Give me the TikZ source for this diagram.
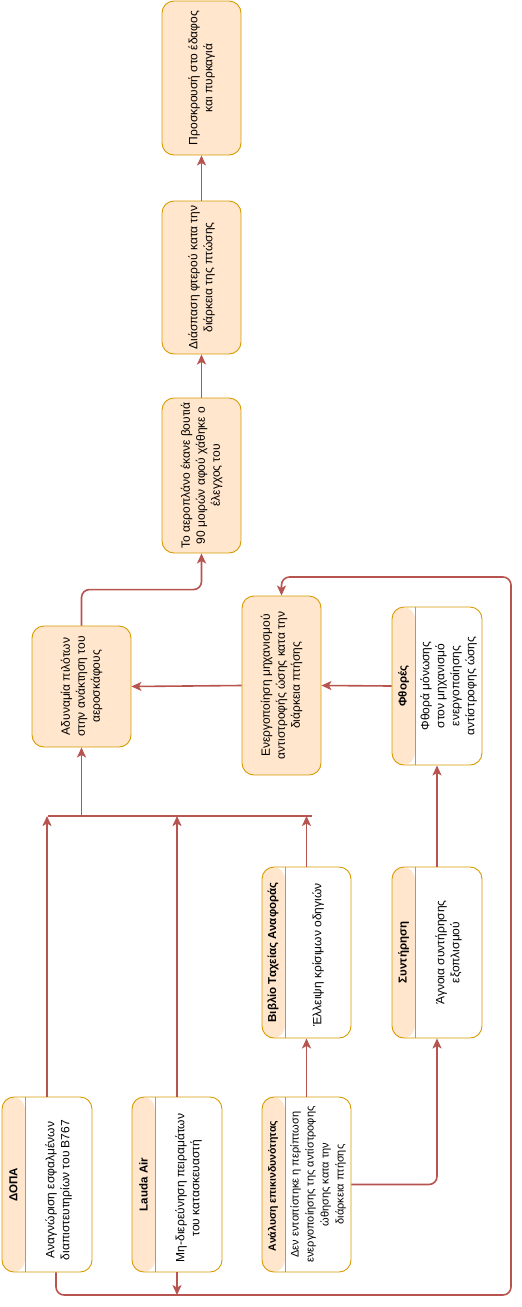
\documentclass[tikz,border=0pt]{standalone}
\usepackage{fontspec}
\setmainfont{Liberation Sans}
\usetikzlibrary{arrows.meta,calc}
\definecolor{ofill}{HTML}{FFE6CC}
\definecolor{oline}{HTML}{D79B00}
\definecolor{rline}{HTML}{B85450}
\begin{document}
\begin{tikzpicture}[x=1pt,y=-1pt,
 box/.style={draw=oline, fill=ofill, line width=0.9pt, rounded corners=12pt, inner sep=0pt},
 lane/.style={draw=oline, fill=white, line width=0.9pt, rounded corners=12pt, inner sep=0pt,
   path picture={\fill[ofill] (path picture bounding box.north west) rectangle ([xshift=23pt]path picture bounding box.south west);
     \draw[oline, line width=0.9pt] ([xshift=23pt]path picture bounding box.north west) -- ([xshift=23pt]path picture bounding box.south west);}},
 txt/.style={rotate=90, align=center, font=\fontsize{12}{15}\selectfont, inner sep=0pt},
 smalltxt/.style={txt, font=\fontsize{11}{15}\selectfont},
 ttl/.style={rotate=90, align=center, font=\fontsize{11.5}{14}\selectfont\bfseries, inner sep=0pt},
 smallttl/.style={ttl, font=\fontsize{10.5}{14}\selectfont\bfseries},
 arr/.style={draw=rline, line width=1.6pt, -{Stealth[length=10pt,width=9pt,inset=2.5pt]}},
 con/.style={draw=rline, line width=1.6pt},
]
\useasboundingbox (0,0) rectangle (522,1307);

% plain boxes
\node[box, minimum width=79pt, minimum height=154pt] (prosk) at (201.5,78) {};
\node[txt] (proskT) at (prosk.center) {Προσκρουσή στο έδαφος\\και πυρκαγιά};
\node[box, minimum width=79pt, minimum height=153pt] (diasp) at (201.5,277.5) {};
\node[txt] (diaspT) at (diasp.center) {Διάσπαση φτερού κατα την\\διάρκεια της πτώσης};
\node[box, minimum width=79pt, minimum height=155pt] (aero) at (201.5,475.5) {};
\node[txt] (aeroT) at (aero.center) {Το αεροπλάνο έκανε βουτιά\\90 μοιρών αφού χάθηκε ο\\έλεγχος του};
\node[box, minimum width=99pt, minimum height=121pt] (adyn) at (81.5,686.5) {};
\node[txt] (adynT) at (adyn.center) {Αδυναμία πιλότων\\στην ανάκτηση του\\αεροσκάφους};
\node[box, minimum width=79pt, minimum height=179pt] (energ) at (281.5,685.5) {};
\node[txt] (energT) at (energ.center) {Ενεργοποίηση μηχανισμού\\αντιστροφής ώσης κατα την\\διάρκεια πτήσης};

% lanes
\node[lane, minimum width=90pt, minimum height=158pt] (fthor) at (437,686) {};
\node[ttl] (fthorH) at (403.5,686) {Φθορές};
\node[txt] (fthorB) at (448.5,686) {Φθορά μόνωσης\\στον μηχανισμό\\ενεργοποίησης\\αντίστροφης ώσης};

\node[lane, minimum width=89pt, minimum height=171pt] (bibl) at (306.5,952.5) {};
\node[ttl] (biblH) at (273,952.5) {Βιβλίο Ταχείας Αναφοράς};
\node[txt] (biblB) at (318,955) {Έλλειψη κρίσιμων οδηγιών};

\node[lane, minimum width=90pt, minimum height=171pt] (synt) at (437,952.5) {};
\node[ttl] (syntH) at (403.5,952.5) {Συντήρηση};
\node[txt] (syntB) at (448.5,952.5) {Άγνοια συντήρησης\\εξοπλισμού};

\node[lane, minimum width=90pt, minimum height=175pt] (dopa) at (47,1184.5) {};
\node[ttl] (dopaH) at (13.5,1184.5) {ΔΟΠΑ};
\node[txt] (dopaB) at (58.5,1190) {Αναγνώριση εσφαλμένων\\διαπιστευτηρίων του B767};

\node[lane, minimum width=90pt, minimum height=175pt] (lauda) at (177,1184.5) {};
\node[ttl] (laudaH) at (143.5,1184.5) {Lauda Air};
\node[txt] (laudaB) at (188.5,1188) {Μη-διερεύνηση πειραμάτων\\του κατασκευαστή};

\node[lane, minimum width=89pt, minimum height=175pt] (anal) at (306.5,1184.5) {};
\node[smallttl] (analH) at (273,1186) {Ανάλυση επικινδυνότητας};
\node[smalltxt] (analB) at (318,1184.5) {Δεν εντοπίστηκε η περίπτωση\\ενεργοποίησης της αντίστροφης\\ώθησης κατα την\\διάρκεια πτήσης};

% bus
\coordinate (busL) at (48,816);
\coordinate (busR) at (312,816);
\coordinate (busM) at (81.5,816);
\draw[con] (busL) -- (busR);
\draw[arr] (busM) -- (adyn.south);
\draw[arr] (dopa.north) -- (dopa.north |- busL);
\draw[arr] (lauda.north) -- (lauda.north |- busL);
\draw[arr] (bibl.north) -- (bibl.north |- busL);

% chain
\draw[arr, rounded corners=8pt] (adyn.north) -- ++(0,-36) -| (aero.south);
\draw[arr] (aero.north) -- (diasp.south);
\draw[arr] (diasp.north) -- (prosk.south);
\draw[arr] (energ.west) -- (adyn.east);
\draw[arr] (fthor.west) -- (energ.east);
\draw[arr] (synt.north) -- (fthor.south);
\draw[arr] (anal.north) -- (bibl.south);
\draw[arr, rounded corners=8pt] (anal.east) -| (synt.south);

% loop
\coordinate (lb) at (56,1295);
\coordinate (rb) at (511,1295);
\coordinate (rt) at (511,577);
\draw[arr, rounded corners=8pt] ([xshift=9pt]dopa.south) -- (lb) -- (rb) -- (rt) -| (energ.north);
\draw[arr] (lauda.south) -- (lauda.south |- lb);
\end{tikzpicture}
\end{document}
